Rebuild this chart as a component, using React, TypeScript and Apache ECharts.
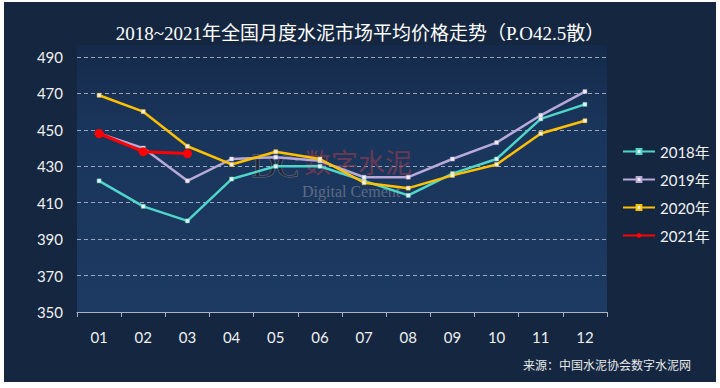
import React, { useEffect, useRef } from "react";
import * as echarts from "echarts";

const months = ["01", "02", "03", "04", "05", "06", "07", "08", "09", "10", "11", "12"];
const s2018 = [422, 408, 400, 423, 430, 430, 422, 414, 426, 434, 456, 464];
const s2019 = [448, 440, 422, 434, 435, 433, 424, 424, 434, 443, 458, 471];
const s2020 = [469, 460, 441, 431, 438, 434, 421, 418, 425, 431, 448, 455];
const s2021 = [448, 438, 437];
const titleText = "2018~2021年全国月度水泥市场平均价格走势（P.O42.5散）";
const sourceText = "来源：中国水泥协会数字水泥网";

const labelFont = "Lato, 'Noto Sans CJK SC', sans-serif";

export default function App() {
  const ref = useRef<HTMLDivElement>(null);
  useEffect(() => {
    const chart = echarts.init(ref.current!, null, { renderer: "svg" });
    const lineSeries = (name: string, data: number[], color: string) => ({
      name,
      type: "line",
      data,
      symbol: "rect",
      symbolSize: 4,
      lineStyle: { color, width: 2.5 },
      itemStyle: { color: "#f0f0f0", borderColor: color, borderWidth: 0.5 },
      z: 3,
    });
    chart.setOption({
      animation: false,
      backgroundColor: "#ffffff",
      title: {
        text: titleText,
        left: "center",
        top: 19,
        textStyle: {
          color: "#ffffff",
          fontSize: 19,
          fontWeight: "normal",
          fontFamily: "'Liberation Serif', 'Noto Sans CJK SC', serif",
        },
      },
      graphic: [
        {
          type: "rect",
          z: -10,
          shape: { x: 4, y: 2, width: 712, height: 380 },
          style: { fill: "#142640" },
        },
        {
          type: "rect",
          z: -9,
          shape: { x: 77, y: 45, width: 530, height: 267 },
          style: {
            fill: {
              type: "linear",
              x: 0, y: 0, x2: 0, y2: 1,
              colorStops: [
                { offset: 0, color: "#152a4b" },
                { offset: 0.3, color: "#1a355b" },
                { offset: 1, color: "#1d3a62" },
              ],
            },
          },
        },
        {
          type: "text",
          z: 1,
          x: 252,
          y: 148,
          style: {
            text: "DC",
            fill: "rgba(25,25,35,0.6)",
            stroke: "rgba(150,150,160,0.6)",
            lineWidth: 1,
            fontSize: 34,
            fontFamily: "'Liberation Serif', serif",
          },
        },
        {
          type: "text",
          z: 1,
          x: 304,
          y: 148,
          style: {
            text: "数字水泥",
            fill: "rgba(150,60,80,0.65)",
            fontSize: 27,
            fontFamily: "'Noto Sans CJK SC', sans-serif",
          },
        },
        {
          type: "text",
          z: 1,
          x: 302,
          y: 183,
          style: {
            text: "Digital Cement",
            fill: "rgba(160,160,170,0.5)",
            fontSize: 16,
            fontFamily: "'Liberation Serif', serif",
          },
        },
        {
          type: "text",
          right: 29,
          top: 358,
          style: {
            text: sourceText,
            fill: "#e8e8e8",
            fontSize: 12,
            fontFamily: "'Noto Sans CJK SC', sans-serif",
          },
        },
      ],
      legend: {
        orient: "vertical",
        left: 617,
        top: 139,
        itemWidth: 32,
        itemHeight: 6,
        itemGap: 13,
        textStyle: { color: "#f2f2f2", fontSize: 15, fontFamily: labelFont },
        data: ["2018年", "2019年", "2020年", "2021年"],
      },
      grid: { left: 77, right: 113, top: 57, bottom: 76 },
      xAxis: {
        type: "category",
        data: months,
        boundaryGap: true,
        axisLine: { lineStyle: { color: "#a9b2c0", width: 1 } },
        axisTick: { show: true, length: 5, lineStyle: { color: "#a9b2c0" } },
        axisLabel: { color: "#f0f0f0", fontSize: 15, margin: 17, fontFamily: labelFont },
      },
      yAxis: {
        type: "value",
        min: 350,
        max: 490,
        interval: 20,
        axisLine: { show: false },
        axisTick: { show: false },
        axisLabel: { color: "#f0f0f0", fontSize: 15, margin: 14, fontFamily: labelFont },
        splitLine: {
          show: true,
          lineStyle: { color: "#9aa6ba", type: [4, 3], width: 1 },
        },
      },
      series: [
        lineSeries("2018年", s2018, "#4fd6c8"),
        lineSeries("2019年", s2019, "#b7a9d8"),
        lineSeries("2020年", s2020, "#ffc000"),
        {
          name: "2021年",
          type: "line",
          data: s2021,
          symbol: "circle",
          symbolSize: 9,
          lineStyle: { color: "#ff0000", width: 3 },
          itemStyle: { color: "#ff0000" },
          z: 4,
        },
      ],
    });
    return () => chart.dispose();
  }, []);
  return (
    <div
      ref={ref}
      style={{ position: "absolute", left: 0, top: 0, width: 720, height: 388 }}
    />
  );
}
